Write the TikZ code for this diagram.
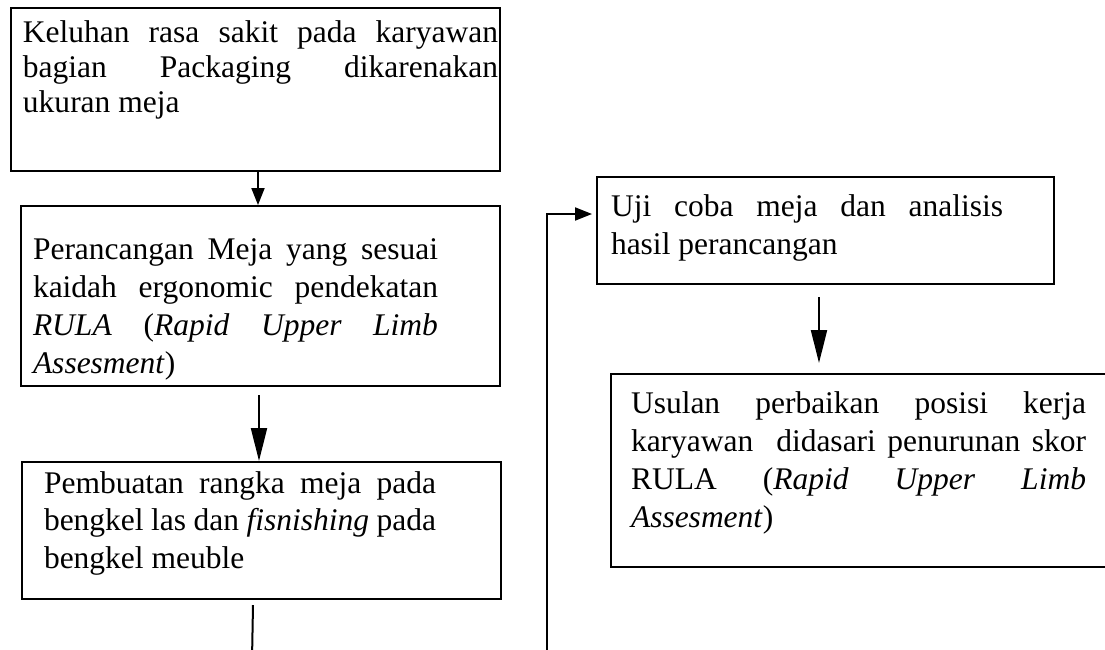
\documentclass[tikz,border=0pt]{standalone}
\usepackage{fontspec}
\setmainfont{Liberation Serif}
\usetikzlibrary{arrows.meta}

\begin{document}
\begin{tikzpicture}[x=1pt,y=-1pt,
		box_style/.style={draw=black,line width=2pt,anchor=north west,inner sep=0pt,align=justify,
			font=\fontsize{31.5pt}{38pt}\selectfont},
		pad/.style 2 args={execute at begin node={\leftskip=#1pt\rightskip=#2pt\hyphenpenalty=10000\relax}},
		edge_style/.style={draw=black,line width=2pt},
		arrow_short/.style={edge_style,-{Triangle[length=17pt,width=13pt]}},
		arrow_long/.style={edge_style,-{Triangle[length=33pt,width=16pt]}}]

		\useasboundingbox (0,0) rectangle (1105,649);

		\node[box_style,pad={12}{2},text width=489pt,text height=34pt,text depth=129pt,
			font=\fontsize{31.5pt}{35pt}\selectfont] (keluhan) at (10,7)
			{Keluhan rasa sakit pada karyawan\linebreak bagian Packaging dikarenakan\linebreak ukuran meja};
		\node[box_style,pad={12}{62},text width=479pt,text height=53pt,text depth=127pt] (rancang) at (20,205)
			{Perancangan Meja yang sesuai\linebreak kaidah ergonomic pendekatan\linebreak \textit{RULA} (\textit{Rapid Upper Limb}\linebreak \textit{Assesment})};
		\node[box_style,pad={22}{65},text width=479pt,text height=31pt,text depth=106pt,
			font=\fontsize{31.5pt}{37.5pt}\selectfont] (buat) at (21,461)
			{Pembuatan rangka meja pada\linebreak bengkel las dan \textit{fisnishing} pada\linebreak bengkel meuble};
		\node[box_style,pad={14}{51},text width=457pt,text height=39pt,text depth=68pt] (uji) at (596,176)
			{Uji coba meja dan analisis\linebreak hasil perancangan};
		\node[box_style,pad={20}{30},text width=505pt,text height=39pt,text depth=154pt] (usul) at (610,373)
			{Usulan perbaikan posisi kerja\linebreak karyawan\ \ didasari penurunan skor\linebreak RULA (\textit{Rapid Upper Limb}\linebreak \textit{Assesment})};

		\coordinate (ujung1) at (252,660);
		\coordinate (ujung2) at (547,660);

		\draw[arrow_short] ([xshift=2.5pt]keluhan.south) -- ([xshift=-2.5pt]rancang.north);
		\draw[arrow_long] ([xshift=-1.5pt,yshift=-8pt]rancang.south) -- ([xshift=-2.5pt]buat.north);
		\draw[edge_style] ([xshift=-8.5pt,yshift=-5pt]buat.south) -- (ujung1);
		\draw[arrow_short] (ujung2) |- ([xshift=-4pt,yshift=16.5pt]uji.west);
		\draw[arrow_long] ([xshift=-6.5pt,yshift=-12pt]uji.south) -- ([xshift=-44.5pt,yshift=10pt]usul.north);

\end{tikzpicture}
\end{document}
